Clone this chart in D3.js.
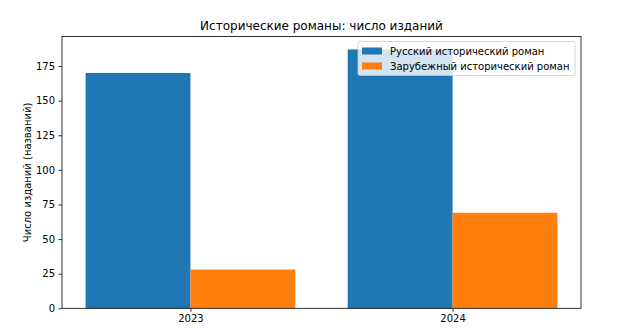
<!DOCTYPE html>
<html>
<head>
<meta charset="utf-8">
<script src="https://cdn.jsdelivr.net/npm/d3@7"></script>
<style>
  body { margin: 0; background: #fff; }
  svg { display: block; font-family: "DejaVu Sans", sans-serif; }
</style>
</head>
<body>
<div id="chart"></div>
<script>
// Data
const years = ['2023', '2024'];
const seriesNames = ['Русский исторический роман', 'Зарубежный исторический роман'];
const russian = [170, 187];
const foreign = [28, 69];
const yTicks = [0, 25, 50, 75, 100, 125, 150, 175];

const COLORS = ['#1f77b4', '#ff7f0e'];
const W = 636, H = 330;
const m = { left: 62, right: 55, top: 36.5, bottom: 21.7 };
const iw = W - m.left - m.right, ih = H - m.top - m.bottom;

const svg = d3.select('#chart').append('svg').attr('width', W).attr('height', H);
const g = svg.append('g').attr('transform', `translate(${m.left},${m.top})`);

const barW = 0.4;
const ymax = d3.max(russian.concat(foreign)) * 1.05;
const x = d3.scaleLinear().domain([-0.49, 1.49]).range([0, iw]);
const y = d3.scaleLinear().domain([0, ymax]).range([ih, 0]);

// bars
const series = [russian, foreign];
series.forEach((vals, si) => {
  g.selectAll(`.bar-${si}`)
    .data(vals)
    .enter().append('rect')
    .attr('x', (d, i) => x(i + (si === 0 ? -barW : 0)))
    .attr('width', x(barW) - x(0))
    .attr('y', d => y(d))
    .attr('height', d => y(0) - y(d))
    .attr('fill', COLORS[si]);
});

// axes
const yAxis = d3.axisLeft(y).tickValues(yTicks).tickSize(3.5).tickPadding(3.5);
const xAxis = d3.axisBottom(x).tickValues([0, 1]).tickFormat(i => years[i]).tickSize(3.5).tickPadding(3.5);

const ya = g.append('g').call(yAxis);
const xa = g.append('g').attr('transform', `translate(0,${ih})`).call(xAxis);
[ya, xa].forEach(a => {
  a.select('.domain').remove();
  a.selectAll('text').attr('font-size', 10).attr('fill', '#000').attr('font-family', 'DejaVu Sans');
  a.selectAll('line').attr('stroke', '#000').attr('stroke-width', 0.8);
});

// frame
g.append('rect').attr('width', iw).attr('height', ih)
  .attr('fill', 'none').attr('stroke', '#000').attr('stroke-width', 0.8);

// title
svg.append('text').attr('x', m.left + iw / 2).attr('y', m.top - 7)
  .attr('text-anchor', 'middle').attr('font-size', 12)
  .text('Исторические романы: число изданий');

// y label
svg.append('text')
  .attr('transform', `translate(31,${m.top + ih / 2}) rotate(-90)`)
  .attr('text-anchor', 'middle').attr('font-size', 10)
  .text('Число изданий (названий)');

// legend
const lg = g.append('g').attr('transform', `translate(${iw - 223},5)`);
lg.append('rect').attr('width', 217).attr('height', 34).attr('rx', 2)
  .attr('fill', '#fff').attr('fill-opacity', 0.8)
  .attr('stroke', '#ccc').attr('stroke-width', 0.8);
seriesNames.forEach((name, i) => {
  const row = lg.append('g').attr('transform', `translate(4,${5 + i * 15})`);
  row.append('rect').attr('width', 20).attr('height', 7).attr('y', 1).attr('fill', COLORS[i]);
  row.append('text').attr('x', 28).attr('y', 8.5).attr('font-size', 10).text(name);
});
</script>
</body>
</html>
